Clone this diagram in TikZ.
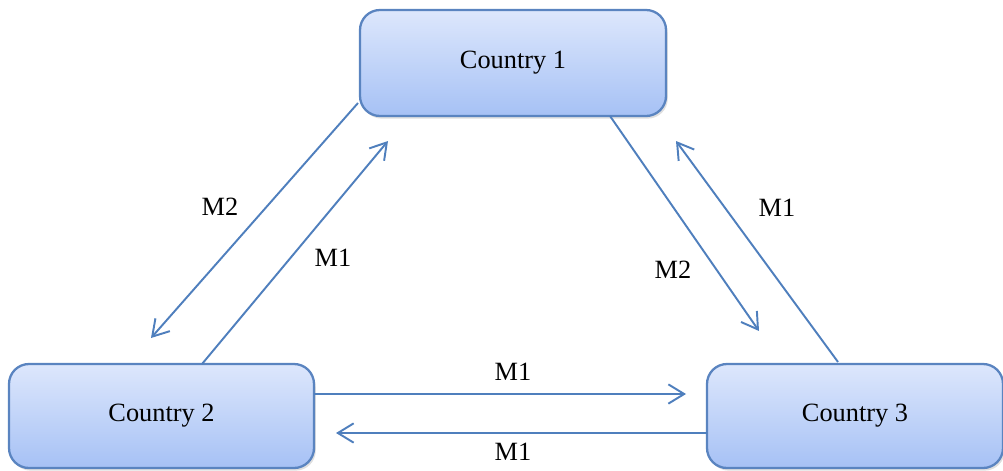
\documentclass[tikz,border=0pt]{standalone}
\usepackage{fontspec}
\setmainfont{Liberation Serif}
\usetikzlibrary{arrows.meta,shadows}
\definecolor{boxline}{HTML}{5A84C0}
\definecolor{boxtop}{HTML}{DDE7FC}
\definecolor{boxbot}{HTML}{A6C1F5}
\definecolor{flowline}{HTML}{4F7FBD}
\tikzset{
    country/.style={draw=boxline,line width=1.3pt,rounded corners=0.4cm,
        top color=boxtop,bottom color=boxbot,
        drop shadow={opacity=0.25,shadow xshift=1pt,shadow yshift=-1.5pt},
        font=\fontsize{15}{18}\selectfont},
    flow/.style={draw=flowline,line width=1.1pt,
        -{Straight Barb[length=9pt,width=11pt,line width=1.1pt]}},
    tag/.style={font=\fontsize{15}{18}\selectfont},
}
\begin{document}
\begin{tikzpicture}[x=0.02cm,y=-0.02cm]
    \useasboundingbox (0,0) rectangle (1003,470);
    % the three countries
    \node[country,minimum width=306*0.02cm,minimum height=106*0.02cm] (c1) at (513,63) {Country 1};
    \node[country,minimum width=305*0.02cm,minimum height=104*0.02cm] (c2) at (161.5,416) {Country 2};
    \node[country,minimum width=296*0.02cm,minimum height=104*0.02cm] (c3) at (855,416) {Country 3};
    % ends of the flows
    \coordinate (a1) at (358,103);  \coordinate (a2) at (151,338);
    \coordinate (b1) at (202,364);  \coordinate (b2) at (388,141);
    \coordinate (d1) at (610,116);  \coordinate (d2) at (759,331);
    \coordinate (e1) at (838,362);  \coordinate (e2) at (676,141);
    \coordinate (f1) at (314,394);  \coordinate (f2) at (686,394);
    \coordinate (g1) at (707,433);  \coordinate (g2) at (336,433);
    % flows
    \draw[flow] (a1) -- (a2);
    \draw[flow] (b1) -- (b2);
    \draw[flow] (d1) -- (d2);
    \draw[flow] (e1) -- (e2);
    \draw[flow] (f1) -- (f2);
    \draw[flow] (g1) -- (g2);
    % labels
    \node[tag] (la) at (220,207) {M2};
    \node[tag] (lb) at (333,258) {M1};
    \node[tag] (ld) at (673,270) {M2};
    \node[tag] (le) at (777,208) {M1};
    \node[tag] (lf) at (513,372) {M1};
    \node[tag] (lg) at (513,452) {M1};
\end{tikzpicture}
\end{document}
